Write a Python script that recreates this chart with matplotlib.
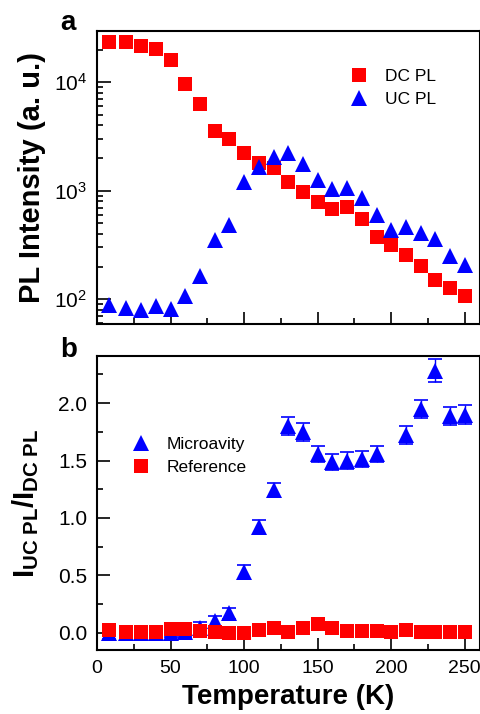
import matplotlib
matplotlib.use("Agg")
import matplotlib.pyplot as plt
from matplotlib.ticker import MultipleLocator, LogLocator, NullFormatter

plt.rcParams['font.family'] = ['Liberation Sans', 'DejaVu Sans']
plt.rcParams['mathtext.fontset'] = 'custom'
plt.rcParams['mathtext.rm'] = 'Liberation Sans'
plt.rcParams['mathtext.bf'] = 'Liberation Sans:bold'
plt.rcParams['mathtext.it'] = 'Liberation Sans:italic'

# ---- data: panel a ----
temps = [8, 20, 30, 40, 50, 60, 70, 80, 90, 100, 110, 120, 130, 140, 150,
         160, 170, 180, 190, 200, 210, 220, 230, 240, 250]
dc_pl = [23400, 23400, 21600, 20100, 16000, 9700, 6360, 3560, 2990, 2250,
         1820, 1610, 1210, 982, 783, 675, 705, 550, 372, 317, 256, 204, 151, 126, 108]
uc_pl = [89, 83, 80, 87, 81, 107, 164, 352, 484, 1215, 1650, 2040, 2220, 1770,
         1260, 1040, 1070, 853, 599, 435, 458, 406, 357, 251, 207]

# ---- data: panel b ----
micro_temps = [8, 20, 30, 40, 50, 60, 70, 80, 90, 100, 110, 120, 130, 140, 150,
               160, 170, 180, 190, 210, 220, 230, 240, 250]
micro_ratio = [0.0, 0.0, 0.0, 0.0, 0.0, 0.01, 0.04, 0.10, 0.17, 0.53, 0.92, 1.24,
               1.80, 1.75, 1.56, 1.49, 1.50, 1.51, 1.56, 1.72, 1.95, 2.28, 1.89, 1.90]
micro_err = [0.05, 0.05, 0.05, 0.05, 0.04, 0.05, 0.05, 0.05, 0.05, 0.06, 0.06, 0.06,
             0.08, 0.08, 0.07, 0.07, 0.07, 0.07, 0.07, 0.08, 0.08, 0.10, 0.08, 0.08]
ref_ratio = [0.02, 0.01, 0.01, 0.01, 0.035, 0.03, 0.015, 0.005, 0.0, 0.0, 0.02, 0.04,
             0.01, 0.045, 0.075, 0.045, 0.015, 0.015, 0.015, 0.01, 0.02, 0.005,
             0.01, 0.005, 0.005]

RED = '#ff0000'
BLUE = '#0000ff'

W, H = 481, 714
fig = plt.figure(figsize=(W / 100, H / 100), dpi=100)

def box(l, t, r, b):
    return [l / W, 1 - b / H, (r - l) / W, (b - t) / H]

ax1 = fig.add_axes(box(97, 31, 479.5, 324))
ax2 = fig.add_axes(box(97, 356, 479.5, 650))

for ax in (ax1, ax2):
    for s in ax.spines.values():
        s.set_linewidth(1.5)
    ax.tick_params(which='both', direction='in', top=False, right=False,
                   width=1.2, labelsize=15, pad=7)
    ax.tick_params(axis='x', labelsize=14)
    ax.tick_params(which='major', length=9)
    ax.tick_params(which='minor', length=4.5)
    ax.set_xlim(0, 260)
    ax.xaxis.set_major_locator(MultipleLocator(50))
    ax.xaxis.set_minor_locator(MultipleLocator(25))

# Panel a
ax1.set_yscale('log')
ax1.set_ylim(59, 29700)
ax1.plot(temps, dc_pl, 's', color=RED, ms=9.5, mew=0, label='DC PL', zorder=3)
ax1.plot(temps, uc_pl, '^', color=BLUE, ms=11, mew=0, label='UC PL', zorder=4)
ax1.yaxis.set_major_locator(LogLocator(base=10, numticks=10))
ax1.yaxis.set_minor_locator(LogLocator(base=10, subs=range(2, 10), numticks=10))
ax1.yaxis.set_minor_formatter(NullFormatter())
ax1.tick_params(axis='x', labelbottom=False)
ax1.tick_params(axis='y', which='major', length=10)
ax1.set_ylabel('PL Intensity (a. u.)', fontsize=21, fontweight='bold', labelpad=6)
ax1.legend(loc='upper left', bbox_to_anchor=(0.625, 0.913), frameon=False,
           fontsize=12.5, handletextpad=0.9, labelspacing=0.45, borderpad=0.2,
           handlelength=1.2)
fig.text(60 / W, 1 - 30 / H, 'a', fontsize=20, fontweight='bold')

# Panel b
ax2.set_ylim(-0.15, 2.41)
ax2.yaxis.set_major_locator(MultipleLocator(0.5))
ax2.yaxis.set_minor_locator(MultipleLocator(0.25))
ax2.yaxis.set_major_formatter(plt.FormatStrFormatter('%.1f'))
h_micro, = ax2.plot(micro_temps, micro_ratio, '^', color=BLUE, ms=11, mew=0,
                    label='Microavity', zorder=3)
ax2.errorbar(micro_temps, micro_ratio, yerr=micro_err, fmt='none',
             ecolor=BLUE, elinewidth=1.0, capsize=5, capthick=1.2, zorder=3.5)
h_ref, = ax2.plot(temps, ref_ratio, 's', color=RED, ms=9.5, mew=0,
                  label='Reference', zorder=4)
ax2.set_xlabel('Temperature (K)', fontsize=20, fontweight='bold', labelpad=5)
ax2.set_ylabel(r'$\mathbf{I_{UC\ PL}/I_{DC\ PL}}$', fontsize=21, labelpad=12)
ax2.legend([h_micro, h_ref], ['Microavity', 'Reference'], loc='upper left',
           bbox_to_anchor=(0.055, 0.765), frameon=False, fontsize=12.5,
           handletextpad=0.9, labelspacing=0.45, borderpad=0.2, handlelength=1.2)
fig.text(60 / W, 1 - 357 / H, 'b', fontsize=20, fontweight='bold')

fig.savefig('out.png', dpi=100)
